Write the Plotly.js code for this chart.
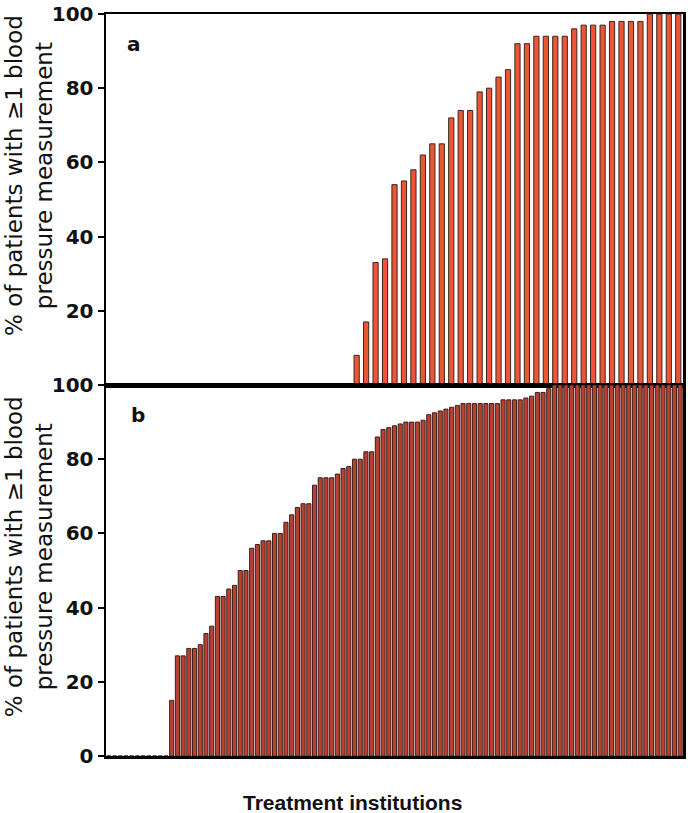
<!DOCTYPE html>
<html>
<head>
<meta charset="utf-8">
<script src="https://cdn.plot.ly/plotly-3.0.1.min.js"></script>
<style>
  html, body { margin: 0; padding: 0; background: #ffffff; }
  #chart { width: 688px; height: 813px; }
</style>
</head>
<body>
<div id="chart"></div>
<script>
// Panel a: % of patients with >=1 blood pressure measurement per institution (sorted)
const valuesA = [
  0,0,0,0,0,0,0,0,0,0,0,0,0,0,0,0,0,0,0,0,0,0,0,0,0,0,
  8,17,33,34,54,55,58,62,65,65,72,74,74,79,80,83,85,92,92,94,94,94,94,96,97,97,97,98,98,98,98,100,100,100,100
];
// Panel b
const valuesB = [
  0,0,0,0,0,0,0,0,0,0,0,
  15,27,27,29,29,30,33,35,43,43,45,46,50,50,56,57,58,58,60,60,
  63,65,67,68,68,73,75,75,75,76,77.5,78,80,80,82,82,86,88,88.5,89,
  89.5,90,90,90,90.5,92,92.5,93,93.5,94,94.5,95,95,95,95,95,95,95,
  96,96,96,96,96.5,97,98,98,99,
  100,100,100,100,100,100,100,100,100,100,100,100,100,100,100,100,100,100,100,100,100,100,100
];
const panelLabels = ['a', 'b'];
const yTitle = '% of patients with \u22651 blood<br>pressure measurement';
const xTitle = 'Treatment institutions';
const ticksA = [20, 40, 60, 80, 100];
const ticksB = [0, 20, 40, 60, 80, 100];

const xA = valuesA.map((_, i) => i + 1);
const xB = valuesB.map((_, i) => i + 1);

const traces = [
  {
    type: 'bar', x: xA, y: valuesA, xaxis: 'x', yaxis: 'y',
    width: 0.55,
    marker: { color: '#EC5634', line: { color: '#3a2622', width: 1 } },
    hoverinfo: 'y'
  },
  {
    type: 'bar', x: xB, y: valuesB, xaxis: 'x2', yaxis: 'y2',
    width: 0.72,
    marker: { color: '#B9402F', line: { color: '#3a2020', width: 1 } },
    hoverinfo: 'y'
  }
];

const axisLine = { showline: true, mirror: true, linecolor: '#000', linewidth: 2.5, showgrid: false, zeroline: false };
const tickFont = { family: 'DejaVu Sans, Arial, sans-serif', size: 20, color: '#111', weight: 'bold' };
const labelFont = { family: 'DejaVu Sans, Arial, sans-serif', size: 20, color: '#111', weight: 'bold' };
const yTitleFont = { family: 'DejaVu Sans, Arial, sans-serif', size: 23, color: '#111' };

const layout = {
  width: 688, height: 813,
  margin: { l: 106, r: 5, t: 14, b: 57 },
  paper_bgcolor: '#ffffff', plot_bgcolor: '#ffffff',
  showlegend: false,
  xaxis: Object.assign({}, axisLine, { domain: [0, 1], range: [0.5, valuesA.length + 0.5], showticklabels: false, ticks: '', anchor: 'y' }),
  yaxis: Object.assign({}, axisLine, { domain: [0.5, 1], range: [0, 100], tickvals: ticksA, ticks: 'outside', ticklen: 6, tickwidth: 2, tickcolor: '#000', tickfont: tickFont, anchor: 'x' }),
  xaxis2: Object.assign({}, axisLine, { domain: [0, 1], range: [0.5, valuesB.length + 0.5], showticklabels: false, ticks: '', anchor: 'y2' }),
  yaxis2: Object.assign({}, axisLine, { domain: [0, 0.5], range: [0, 100], tickvals: ticksB, ticks: 'outside', ticklen: 6, tickwidth: 2, tickcolor: '#000', tickfont: tickFont, anchor: 'x2' }),
  annotations: [
    { text: panelLabels[0], xref: 'paper', yref: 'paper', x: 0.0485, y: 0.9596, xanchor: 'center', yanchor: 'middle', showarrow: false, font: labelFont },
    { text: panelLabels[1], xref: 'paper', yref: 'paper', x: 0.0555, y: 0.4596, xanchor: 'center', yanchor: 'middle', showarrow: false, font: labelFont },
    { text: yTitle, xref: 'paper', yref: 'paper', x: -0.1334, y: 0.7817, xanchor: 'center', yanchor: 'middle', showarrow: false, textangle: -90, font: yTitleFont },
    { text: yTitle, xref: 'paper', yref: 'paper', x: -0.1334, y: 0.268, xanchor: 'center', yanchor: 'middle', showarrow: false, textangle: -90, font: yTitleFont },
    { text: xTitle, xref: 'paper', yref: 'paper', x: 0.428, y: -0.062, xanchor: 'center', yanchor: 'middle', showarrow: false,
      font: { family: 'Liberation Sans, Arial, sans-serif', size: 21, color: '#111', weight: 'bold' } }
  ]
};

Plotly.newPlot('chart', traces, layout, { displayModeBar: false, staticPlot: true });
</script>
</body>
</html>
